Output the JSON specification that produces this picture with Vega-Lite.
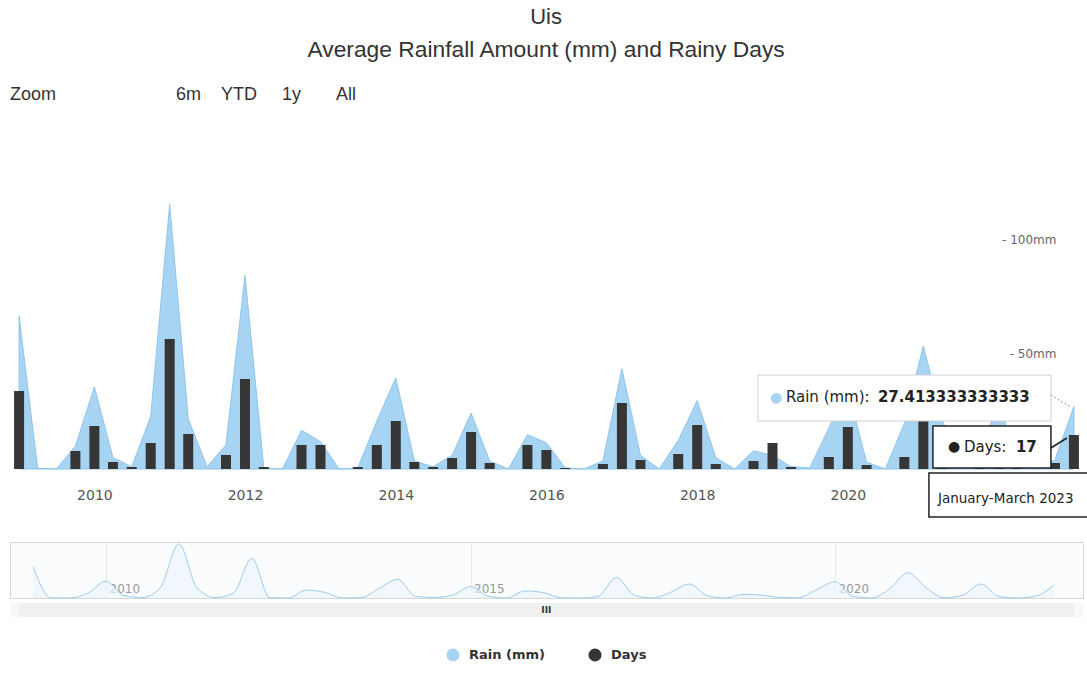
{
  "$schema": "https://vega.github.io/schema/vega-lite/v6.json",
  "background": "white",
  "padding": {"left": 9, "right": 5, "top": 6, "bottom": 5},
  "title": {
    "text": "Uis",
    "subtitle": "Average Rainfall Amount (mm) and Rainy Days",
    "anchor": "middle",
    "dx": -4,
    "font": "Liberation Sans",
    "fontSize": 22,
    "fontWeight": "normal",
    "color": "#333333",
    "subtitleFont": "Liberation Sans",
    "subtitleFontSize": 22.8,
    "subtitleColor": "#333333",
    "subtitlePadding": 10,
    "offset": 23
  },
  "data": {
    "values": [
      {"date": "2009-01-01", "rain": 67, "days": 39},
      {"date": "2009-04-01", "rain": 0.3, "days": 0},
      {"date": "2009-07-01", "rain": 0, "days": 0},
      {"date": "2009-10-01", "rain": 10, "days": 9},
      {"date": "2010-01-01", "rain": 36, "days": 21.5},
      {"date": "2010-04-01", "rain": 5, "days": 3.5},
      {"date": "2010-07-01", "rain": 1, "days": 1},
      {"date": "2010-10-01", "rain": 23, "days": 13},
      {"date": "2011-01-01", "rain": 116, "days": 65},
      {"date": "2011-04-01", "rain": 22, "days": 17.5},
      {"date": "2011-07-01", "rain": 1, "days": 0},
      {"date": "2011-10-01", "rain": 10.5, "days": 7},
      {"date": "2012-01-01", "rain": 85, "days": 45},
      {"date": "2012-04-01", "rain": 0.5, "days": 1},
      {"date": "2012-07-01", "rain": 0, "days": 0},
      {"date": "2012-10-01", "rain": 17, "days": 12},
      {"date": "2013-01-01", "rain": 12, "days": 12},
      {"date": "2013-04-01", "rain": 0, "days": 0},
      {"date": "2013-07-01", "rain": 0.5, "days": 1},
      {"date": "2013-10-01", "rain": 21, "days": 12},
      {"date": "2014-01-01", "rain": 40, "days": 24},
      {"date": "2014-04-01", "rain": 3.5, "days": 3.5},
      {"date": "2014-07-01", "rain": 1, "days": 1},
      {"date": "2014-10-01", "rain": 6, "days": 5.5},
      {"date": "2015-01-01", "rain": 24.5, "days": 18.5},
      {"date": "2015-04-01", "rain": 3.5, "days": 3},
      {"date": "2015-07-01", "rain": 0, "days": 0},
      {"date": "2015-10-01", "rain": 15, "days": 12},
      {"date": "2016-01-01", "rain": 11.5, "days": 9.5},
      {"date": "2016-04-01", "rain": 0.5, "days": 0.5},
      {"date": "2016-07-01", "rain": 0, "days": 0},
      {"date": "2016-10-01", "rain": 3.5, "days": 2.5},
      {"date": "2017-01-01", "rain": 44, "days": 33},
      {"date": "2017-04-01", "rain": 6, "days": 4.5},
      {"date": "2017-07-01", "rain": 0, "days": 0},
      {"date": "2017-10-01", "rain": 12.5, "days": 7.5},
      {"date": "2018-01-01", "rain": 30, "days": 22},
      {"date": "2018-04-01", "rain": 5, "days": 2.5},
      {"date": "2018-07-01", "rain": 0, "days": 0},
      {"date": "2018-10-01", "rain": 8, "days": 4},
      {"date": "2019-01-01", "rain": 6, "days": 13},
      {"date": "2019-04-01", "rain": 1, "days": 1},
      {"date": "2019-07-01", "rain": 0.5, "days": 0},
      {"date": "2019-10-01", "rain": 18, "days": 6},
      {"date": "2020-01-01", "rain": 35, "days": 21},
      {"date": "2020-04-01", "rain": 3, "days": 2},
      {"date": "2020-07-01", "rain": 0, "days": 0},
      {"date": "2020-10-01", "rain": 20, "days": 6},
      {"date": "2021-01-01", "rain": 54, "days": 27},
      {"date": "2021-04-01", "rain": 22, "days": 10},
      {"date": "2021-07-01", "rain": 0.5, "days": 0},
      {"date": "2021-10-01", "rain": 6, "days": 4},
      {"date": "2022-01-01", "rain": 30, "days": 18},
      {"date": "2022-04-01", "rain": 3, "days": 2},
      {"date": "2022-07-01", "rain": 0, "days": 0},
      {"date": "2022-10-01", "rain": 4, "days": 3},
      {"date": "2023-01-01", "rain": 27.413333333333, "days": 17}
    ]
  },
  "vconcat": [
    {
      "width": 1073,
      "height": 342,
      "title": {
        "text": "Zoom\u00a0\u00a0\u00a0\u00a0\u00a0\u00a0\u00a0\u00a0\u00a0\u00a0\u00a0\u00a0\u00a0\u00a0\u00a0\u00a0\u00a0\u00a0\u00a0\u00a0\u00a0\u00a0\u00a0\u00a06m\u00a0\u00a0\u00a0\u00a0YTD\u00a0\u00a0\u00a0\u00a0\u00a01y\u00a0\u00a0\u00a0\u00a0\u00a0\u00a0\u00a0All",
        "anchor": "start",
        "font": "Liberation Sans",
        "fontSize": 18,
        "fontWeight": "normal",
        "color": "#333333",
        "offset": 23
      },
      "view": {"stroke": null},
      "layer": [
        {
          "mark": {"type": "area", "stroke": "#8ec5ec", "strokeWidth": 1, "opacity": 1},
          "encoding": {
            "x": {
              "field": "date", "type": "temporal",
              "scale": {"domain": [{"year": 2008, "month": 11, "date": 18}, {"year": 2023, "month": 2, "date": 14}], "padding": 0},
              "axis": {"format": "%Y", "values": [{"year": 2010, "month": 1, "date": 1}, {"year": 2012, "month": 1, "date": 1}, {"year": 2014, "month": 1, "date": 1}, {"year": 2016, "month": 1, "date": 1}, {"year": 2018, "month": 1, "date": 1}, {"year": 2020, "month": 1, "date": 1}], "domain": false, "ticks": false, "grid": false, "labelPadding": 19, "labelFont": "DejaVu Sans", "labelFontSize": 14, "labelColor": "#555555", "title": null, "zindex": 0}
            },
            "y": {
              "field": "rain", "type": "quantitative",
              "scale": {"domain": [0, 150], "nice": false},
              "axis": {"orient": "right", "values": [50, 100], "labelExpr": "'- ' + datum.value + 'mm'", "domain": false, "ticks": false, "grid": false, "labelAlign": "right", "labelPadding": -27, "labelBaseline": "middle", "labelOffset": -2, "labelFont": "DejaVu Sans", "labelFontSize": 12, "labelColor": "#666666", "title": null}
            },
            "color": {
              "datum": "Rain (mm)",
              "scale": {"domain": ["Rain (mm)", "Days"], "range": ["#a7d4f3", "#363636"]},
              "legend": {"symbolType": "circle", "title": null}
            }
          }
        },
        {
          "mark": {"type": "bar", "size": 10},
          "encoding": {
            "x": {"field": "date", "type": "temporal"},
            "y": {"field": "days", "type": "quantitative", "scale": {"domain": [0, 171], "nice": false}, "axis": null},
            "color": {"datum": "Days"}
          }
        },
        {
          "transform": [{"filter": {"field": "date", "timeUnit": "year", "equal": 2023}}],
          "mark": {"type": "rect", "fill": "white", "stroke": "#cfcfcf", "strokeWidth": 1, "xOffset": -316, "x2Offset": -23, "yOffset": -94, "y2Offset": -48},
          "encoding": {
            "x": {"field": "date", "type": "temporal"},
            "x2": {"field": "date"},
            "y": {"datum": 0, "type": "quantitative", "scale": {"domain": [0, 150], "nice": false}, "axis": null},
            "y2": {"datum": 0}
          }
        },
        {
          "transform": [{"filter": {"field": "date", "timeUnit": "year", "equal": 2023}}],
          "mark": {"type": "rule", "stroke": "#999999", "strokeDash": [2, 2], "strokeWidth": 1, "xOffset": -23, "x2Offset": -3, "yOffset": -74, "y2Offset": -62},
          "encoding": {
            "x": {"field": "date", "type": "temporal"},
            "x2": {"field": "date"},
            "y": {"datum": 0, "type": "quantitative", "scale": {"domain": [0, 150], "nice": false}, "axis": null},
            "y2": {"datum": 0}
          }
        },
        {
          "transform": [{"filter": {"field": "date", "timeUnit": "year", "equal": 2023}}],
          "mark": {"type": "rect", "fill": "white", "stroke": "#222222", "strokeWidth": 1.5, "xOffset": -141, "x2Offset": -23, "yOffset": -43, "y2Offset": -1},
          "encoding": {
            "x": {"field": "date", "type": "temporal"},
            "x2": {"field": "date"},
            "y": {"datum": 0, "type": "quantitative", "scale": {"domain": [0, 150], "nice": false}, "axis": null},
            "y2": {"datum": 0}
          }
        },
        {
          "transform": [{"filter": {"field": "date", "timeUnit": "year", "equal": 2023}}],
          "mark": {"type": "rule", "stroke": "#222222", "strokeWidth": 1.5, "xOffset": -23, "x2Offset": -7, "yOffset": -21, "y2Offset": -31},
          "encoding": {
            "x": {"field": "date", "type": "temporal"},
            "x2": {"field": "date"},
            "y": {"datum": 0, "type": "quantitative", "scale": {"domain": [0, 150], "nice": false}, "axis": null},
            "y2": {"datum": 0}
          }
        },
        {
          "transform": [{"filter": {"field": "date", "timeUnit": "year", "equal": 2023}}],
          "mark": {"type": "rect", "fill": "white", "stroke": "#222222", "strokeWidth": 1.5, "xOffset": -145, "x2Offset": 16, "yOffset": 4, "y2Offset": 48},
          "encoding": {
            "x": {"field": "date", "type": "temporal"},
            "x2": {"field": "date"},
            "y": {"datum": 0, "type": "quantitative", "scale": {"domain": [0, 150], "nice": false}, "axis": null},
            "y2": {"datum": 0}
          }
        },
        {
          "transform": [{"filter": {"field": "date", "timeUnit": "year", "equal": 2023}}],
          "mark": {"type": "text", "align": "left", "baseline": "middle", "font": "DejaVu Sans", "fontSize": 14, "color": "#a7d4f3", "dx": -304, "dy": -71},
          "encoding": {
            "x": {"field": "date", "type": "temporal"},
            "y": {"datum": 0, "type": "quantitative", "scale": {"domain": [0, 150], "nice": false}, "axis": null},
            "text": {"value": "●"}
          }
        },
        {
          "transform": [{"filter": {"field": "date", "timeUnit": "year", "equal": 2023}}],
          "mark": {"type": "text", "align": "left", "baseline": "middle", "font": "DejaVu Sans", "fontSize": 15, "color": "#222222", "dx": -288, "dy": -72},
          "encoding": {
            "x": {"field": "date", "type": "temporal"},
            "y": {"datum": 0, "type": "quantitative", "scale": {"domain": [0, 150], "nice": false}, "axis": null},
            "text": {"value": "Rain (mm):"}
          }
        },
        {
          "transform": [{"filter": {"field": "date", "timeUnit": "year", "equal": 2023}}],
          "mark": {"type": "text", "align": "left", "baseline": "middle", "font": "DejaVu Sans", "fontSize": 15, "fontWeight": "bold", "color": "#222222", "dx": -196, "dy": -72},
          "encoding": {
            "x": {"field": "date", "type": "temporal"},
            "y": {"datum": 0, "type": "quantitative", "scale": {"domain": [0, 150], "nice": false}, "axis": null},
            "text": {"field": "rain", "type": "nominal"}
          }
        },
        {
          "transform": [{"filter": {"field": "date", "timeUnit": "year", "equal": 2023}}],
          "mark": {"type": "text", "align": "left", "baseline": "middle", "font": "DejaVu Sans", "fontSize": 14, "color": "#222222", "dx": -126, "dy": -22},
          "encoding": {
            "x": {"field": "date", "type": "temporal"},
            "y": {"datum": 0, "type": "quantitative", "scale": {"domain": [0, 150], "nice": false}, "axis": null},
            "text": {"value": "●"}
          }
        },
        {
          "transform": [{"filter": {"field": "date", "timeUnit": "year", "equal": 2023}}],
          "mark": {"type": "text", "align": "left", "baseline": "middle", "font": "DejaVu Sans", "fontSize": 15, "color": "#222222", "dx": -110, "dy": -22},
          "encoding": {
            "x": {"field": "date", "type": "temporal"},
            "y": {"datum": 0, "type": "quantitative", "scale": {"domain": [0, 150], "nice": false}, "axis": null},
            "text": {"value": "Days:"}
          }
        },
        {
          "transform": [{"filter": {"field": "date", "timeUnit": "year", "equal": 2023}}],
          "mark": {"type": "text", "align": "left", "baseline": "middle", "font": "DejaVu Sans", "fontSize": 15, "fontWeight": "bold", "color": "#222222", "dx": -58, "dy": -22},
          "encoding": {
            "x": {"field": "date", "type": "temporal"},
            "y": {"datum": 0, "type": "quantitative", "scale": {"domain": [0, 150], "nice": false}, "axis": null},
            "text": {"field": "days", "type": "nominal"}
          }
        },
        {
          "transform": [{"filter": {"field": "date", "timeUnit": "year", "equal": 2023}}],
          "mark": {"type": "text", "align": "left", "baseline": "middle", "font": "DejaVu Sans", "fontSize": 13.5, "color": "#222222", "dx": -136, "dy": 30},
          "encoding": {
            "x": {"field": "date", "type": "temporal"},
            "y": {"datum": 0, "type": "quantitative", "scale": {"domain": [0, 150], "nice": false}, "axis": null},
            "text": {"value": "January-March 2023"}
          }
        }
      ],
      "resolve": {"scale": {"y": "independent"}}
    },
    {
      "spacing": 2,
      "vconcat": [
        {
          "width": 1073,
          "height": 56,
          "view": {"stroke": "#d6d6d6", "fill": "#fbfcfe"},
          "mark": {"type": "area", "interpolate": "monotone", "color": "#edf5fc", "line": {"color": "#9ccbee", "strokeWidth": 1}},
          "encoding": {
            "x": {
              "field": "date", "type": "temporal",
              "scale": {"domain": [{"year": 2008, "month": 9, "date": 7}, {"year": 2023, "month": 5, "date": 27}], "padding": 0},
              "axis": {"format": "%Y", "tickCount": {"interval": "year", "step": 5}, "domain": false, "ticks": false, "grid": true, "gridColor": "#e8e8e8", "labelAlign": "left", "labelPadding": -15, "labelOffset": 3, "labelFont": "DejaVu Sans", "labelFontSize": 12, "labelColor": "#999999", "title": null}
            },
            "y": {"field": "rain", "type": "quantitative", "scale": {"domain": [0, 120], "nice": false}, "axis": null}
          }
        },
        {
          "width": 1073,
          "height": 14,
          "view": {"stroke": null, "fill": "#f8f8f8"},
          "layer": [
            {
              "mark": {"type": "rect", "color": "#f0f0f0"},
              "encoding": {
                "x": {"aggregate": "min", "field": "date", "type": "temporal", "scale": {"domain": [{"year": 2008, "month": 11, "date": 18}, {"year": 2023, "month": 2, "date": 14}], "padding": 0}, "axis": null},
                "x2": {"aggregate": "max", "field": "date"}
              }
            },
            {
              "mark": {"type": "text", "font": "DejaVu Sans", "fontSize": 9, "fontWeight": "bold", "color": "#333333", "baseline": "middle"},
              "encoding": {
                "x": {"aggregate": "mean", "field": "date", "type": "temporal"},
                "text": {"value": "III"}
              }
            }
          ]
        }
      ]
    }
  ],
  "spacing": 23,
  "resolve": {"scale": {"x": "independent", "y": "independent"}},
  "config": {
    "legend": {
      "orient": "bottom",
      "direction": "horizontal",
      "labelFont": "DejaVu Sans",
      "labelFontSize": 13,
      "labelFontWeight": "bold",
      "labelColor": "#333333",
      "symbolSize": 170,
      "symbolStrokeWidth": 0,
      "columnPadding": 43,
      "labelOffset": 9,
      "offset": 31,
      "layout": {"bottom": {"anchor": "middle"}}
    }
  }
}
